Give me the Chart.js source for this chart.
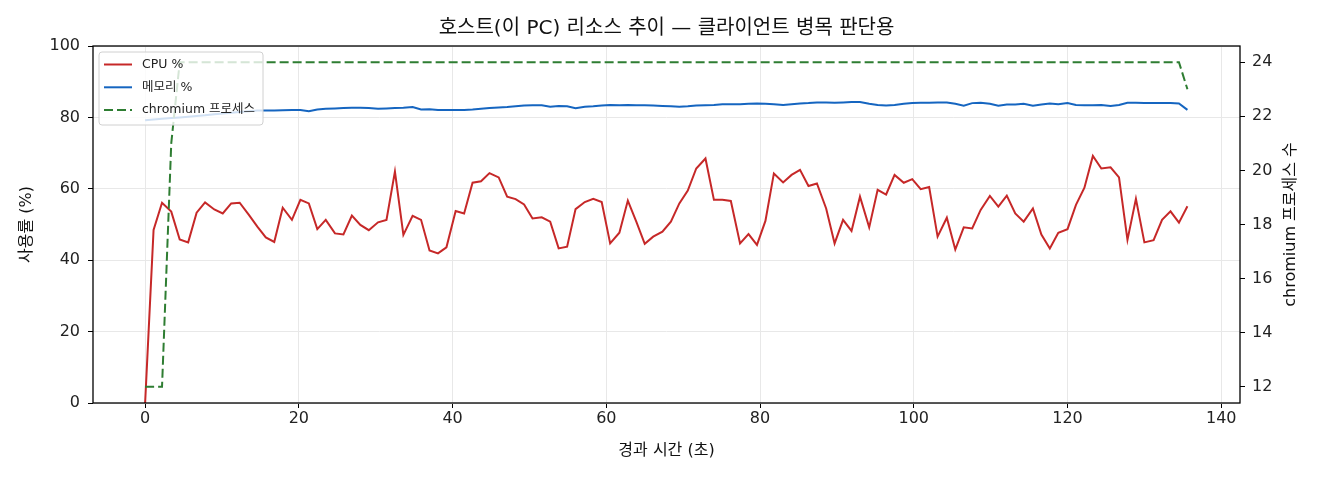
<!DOCTYPE html>
<html>
<head>
<meta charset="utf-8">
<script src="https://cdn.jsdelivr.net/npm/chart.js@4"></script>
<style>
  body { margin: 0; background: #fff; }
  #wrap { width: 1320px; height: 480px; }
</style>
</head>
<body>
<div id="wrap"><canvas id="canvas"></canvas></div>
<script>
const FONT = "'DejaVu Sans', 'Noto Sans CJK KR', sans-serif";

// elapsed seconds per sample
const seconds = [
  0, 1.1, 2.2, 3.4, 4.5, 5.6, 6.7, 7.8, 9.0, 10.1, 11.2, 12.3, 13.5, 14.6, 15.7, 16.8,
  17.9, 19.1, 20.2, 21.3, 22.4, 23.5, 24.7, 25.8, 26.9, 28.0, 29.1, 30.3, 31.4, 32.5,
  33.6, 34.8, 35.9, 37.0, 38.1, 39.2, 40.4, 41.5, 42.6, 43.7, 44.8, 46.0, 47.1, 48.2,
  49.3, 50.4, 51.6, 52.7, 53.8, 54.9, 56.0, 57.2, 58.3, 59.4, 60.5, 61.7, 62.8, 63.9,
  65.0, 66.1, 67.3, 68.4, 69.5, 70.6, 71.7, 72.9, 74.0, 75.1, 76.2, 77.4, 78.5, 79.6,
  80.7, 81.8, 83.0, 84.1, 85.2, 86.3, 87.4, 88.6, 89.7, 90.8, 91.9, 93.0, 94.2, 95.3,
  96.4, 97.5, 98.7, 99.8, 100.9, 102.0, 103.1, 104.3, 105.4, 106.5, 107.6, 108.7,
  109.9, 111.0, 112.1, 113.2, 114.3, 115.5, 116.6, 117.7, 118.8, 120.0, 121.1, 122.2,
  123.3, 124.4, 125.6, 126.7, 127.8, 128.9, 130.0, 131.2, 132.3, 133.4, 134.5, 135.6
];

const cpuPct = [
  0, 48.5, 56.1, 53.6, 45.8, 45.0, 53.3, 56.2, 54.2, 53.1, 55.9, 56.1, 52.7, 49.4, 46.4,
  45.1, 54.7, 51.3, 56.9, 55.9, 48.7, 51.3, 47.5, 47.2, 52.5, 49.9, 48.4, 50.6, 51.3,
  64.8, 47.1, 52.4, 51.3, 42.7, 41.9, 43.6, 53.8, 53.1, 61.7, 62.1, 64.4, 63.2, 57.8,
  57.1, 55.6, 51.7, 52.0, 50.8, 43.3, 43.8, 54.3, 56.3, 57.2, 56.3, 44.7, 47.7, 56.7,
  50.8, 44.6, 46.6, 48.0, 50.8, 55.9, 59.5, 65.7, 68.5, 56.9, 56.9, 56.6, 44.7, 47.3,
  44.3, 51.0, 64.3, 61.8, 63.9, 65.3, 60.8, 61.5, 54.5, 44.7, 51.3, 48.2, 57.8, 49.2,
  59.7, 58.4, 63.9, 61.7, 62.7, 59.9, 60.5, 46.6, 51.9, 43.0, 49.2, 48.9, 54.1, 58.0,
  55.0, 58.1, 53.1, 50.8, 54.5, 47.2, 43.3, 47.7, 48.7, 55.5, 60.3, 69.2, 65.7, 66.0,
  63.2, 45.7, 57.2, 45.0, 45.6, 51.3, 53.7, 50.5, 55.1
];

const memPct = [
  79.2, 79.4, 79.6, 79.8, 80.0, 80.2, 80.4, 80.6, 80.9, 81.1, 81.3, 81.5, 81.7, 81.9,
  81.9, 81.9, 82.0, 82.1, 82.1, 81.7, 82.2, 82.4, 82.5, 82.6, 82.7, 82.7, 82.6, 82.4,
  82.5, 82.6, 82.7, 82.9, 82.2, 82.3, 82.1, 82.1, 82.1, 82.1, 82.2, 82.4, 82.6, 82.8,
  82.9, 83.1, 83.3, 83.4, 83.4, 83.0, 83.2, 83.1, 82.6, 83.0, 83.1, 83.3, 83.5, 83.4,
  83.5, 83.4, 83.4, 83.3, 83.2, 83.1, 83.0, 83.1, 83.3, 83.4, 83.5, 83.7, 83.7, 83.7,
  83.8, 83.9, 83.8, 83.7, 83.5, 83.7, 83.9, 84.0, 84.2, 84.2, 84.1, 84.2, 84.3, 84.3,
  83.8, 83.5, 83.3, 83.5, 83.8, 84.0, 84.1, 84.1, 84.2, 84.2, 83.8, 83.3, 84.0, 84.1,
  83.8, 83.3, 83.6, 83.6, 83.8, 83.3, 83.6, 83.9, 83.7, 84.0, 83.5, 83.4, 83.4, 83.5,
  83.2, 83.5, 84.1, 84.1, 84.0, 84.0, 84.0, 84.0, 83.9, 82.1
];

const chromiumProcs = [
  12, 12, 12, 21, 24, 24, 24, 24, 24, 24, 24, 24, 24, 24, 24, 24, 24, 24, 24, 24, 24,
  24, 24, 24, 24, 24, 24, 24, 24, 24, 24, 24, 24, 24, 24, 24, 24, 24, 24, 24, 24, 24,
  24, 24, 24, 24, 24, 24, 24, 24, 24, 24, 24, 24, 24, 24, 24, 24, 24, 24, 24, 24, 24,
  24, 24, 24, 24, 24, 24, 24, 24, 24, 24, 24, 24, 24, 24, 24, 24, 24, 24, 24, 24, 24,
  24, 24, 24, 24, 24, 24, 24, 24, 24, 24, 24, 24, 24, 24, 24, 24, 24, 24, 24, 24, 24,
  24, 24, 24, 24, 24, 24, 24, 24, 24, 24, 24, 24, 24, 24, 24, 24, 23
];

const seriesLabels = ["CPU %", "메모리 %", "chromium 프로세스"];
const seriesColors = ["#c62828", "#1565c0", "#2e7d32"];

const titleText = "호스트(이 PC) 리소스 추이 — 클라이언트 병목 판단용";
const xTitle = "경과 시간 (초)";
const yTitle = "사용률 (%)";
const y1Title = "chromium 프로세스 수";

function toPoints(values) {
  return values.map((v, i) => ({ x: seconds[i], y: v }));
}

const tickFont = { family: FONT, size: 16 };

// title, axis titles, frame and the in-plot legend
const decorations = {
  id: "decorations",
  afterDraw(chart) {
    const { ctx, chartArea: a } = chart;
    const cx = (a.left + a.right) / 2;
    const cy = (a.top + a.bottom) / 2;
    ctx.save();

    ctx.strokeStyle = "#000";
    ctx.lineWidth = 1.3;
    ctx.strokeRect(a.left, a.top, a.right - a.left, a.bottom - a.top);

    // legend box
    const lx = a.left + 6, ly = a.top + 6, lw = 164, lh = 73;
    ctx.beginPath();
    ctx.roundRect(lx, ly, lw, lh, 3);
    ctx.fillStyle = "rgba(255,255,255,0.8)";
    ctx.fill();
    ctx.strokeStyle = "#d0d0d0";
    ctx.lineWidth = 1;
    ctx.stroke();
    ctx.font = "12.5px " + FONT;
    ctx.textBaseline = "middle";
    ctx.textAlign = "left";
    seriesLabels.forEach((label, i) => {
      const ry = ly + 12.5 + i * 22.8;
      ctx.beginPath();
      ctx.strokeStyle = seriesColors[i];
      ctx.lineWidth = 2;
      ctx.setLineDash(i === 2 ? [9, 4] : []);
      ctx.moveTo(lx + 5, ry);
      ctx.lineTo(lx + 33, ry);
      ctx.stroke();
      ctx.setLineDash([]);
      ctx.fillStyle = "#222";
      ctx.fillText(label, lx + 43, ry);
    });

    ctx.fillStyle = "#111";
    ctx.textAlign = "center";
    ctx.font = "20px " + FONT;
    ctx.fillText(titleText, cx, 29);

    ctx.font = "16px " + FONT;
    ctx.fillText(xTitle, cx, 451);

    ctx.translate(27, cy);
    ctx.rotate(-Math.PI / 2);
    ctx.fillText(yTitle, 0, 0);
    ctx.setTransform(1, 0, 0, 1, 0, 0);

    ctx.translate(1291, cy);
    ctx.rotate(-Math.PI / 2);
    ctx.fillText(y1Title, 0, 0);
    ctx.restore();
  },
};

const ctx = document.getElementById("canvas");

const chart = new Chart(ctx, {
  type: "line",
  data: {
    datasets: [
      {
        label: seriesLabels[0],
        data: toPoints(cpuPct),
        borderColor: seriesColors[0],
        borderWidth: 2,
        yAxisID: "y",
        order: 2,
      },
      {
        label: seriesLabels[1],
        data: toPoints(memPct),
        borderColor: seriesColors[1],
        borderWidth: 2,
        yAxisID: "y",
        order: 1,
      },
      {
        label: seriesLabels[2],
        data: toPoints(chromiumProcs),
        borderColor: seriesColors[2],
        borderWidth: 2,
        borderDash: [9, 4],
        yAxisID: "y1",
        order: 0,
      },
    ],
  },
  options: {
    responsive: true,
    maintainAspectRatio: false,
    animation: false,
    devicePixelRatio: 1,
    elements: {
      point: { radius: 0 },
      line: { tension: 0, fill: false },
    },
    layout: { padding: { top: 46, left: 0, right: 0, bottom: 0 } },
    plugins: {
      legend: { display: false },
      title: { display: false },
      tooltip: { enabled: false },
    },
    scales: {
      x: {
        type: "linear",
        min: -6.78,
        max: 142.44,
        ticks: { stepSize: 20, includeBounds: false, font: tickFont, color: "#222", padding: 1, maxRotation: 0 },
        grid: { color: "#e8e8e8", tickColor: "#000", tickLength: 5 },
        border: { display: false },
        afterFit(s) { s.height = 77; },
      },
      y: {
        position: "left",
        min: 0,
        max: 100,
        ticks: { stepSize: 20, font: tickFont, color: "#222", padding: 8 },
        grid: { color: "#e8e8e8", tickColor: "#000", tickLength: 5 },
        border: { display: false },
        afterFit(s) { s.width = 93; },
      },
      y1: {
        position: "right",
        min: 11.4,
        max: 24.6,
        ticks: { stepSize: 2, includeBounds: false, font: tickFont, color: "#222", padding: 7 },
        grid: { drawOnChartArea: false, tickColor: "#000", tickLength: 5 },
        border: { display: false },
        afterFit(s) { s.width = 80; },
      },
    },
  },
  plugins: [decorations],
});
</script>
</body>
</html>
